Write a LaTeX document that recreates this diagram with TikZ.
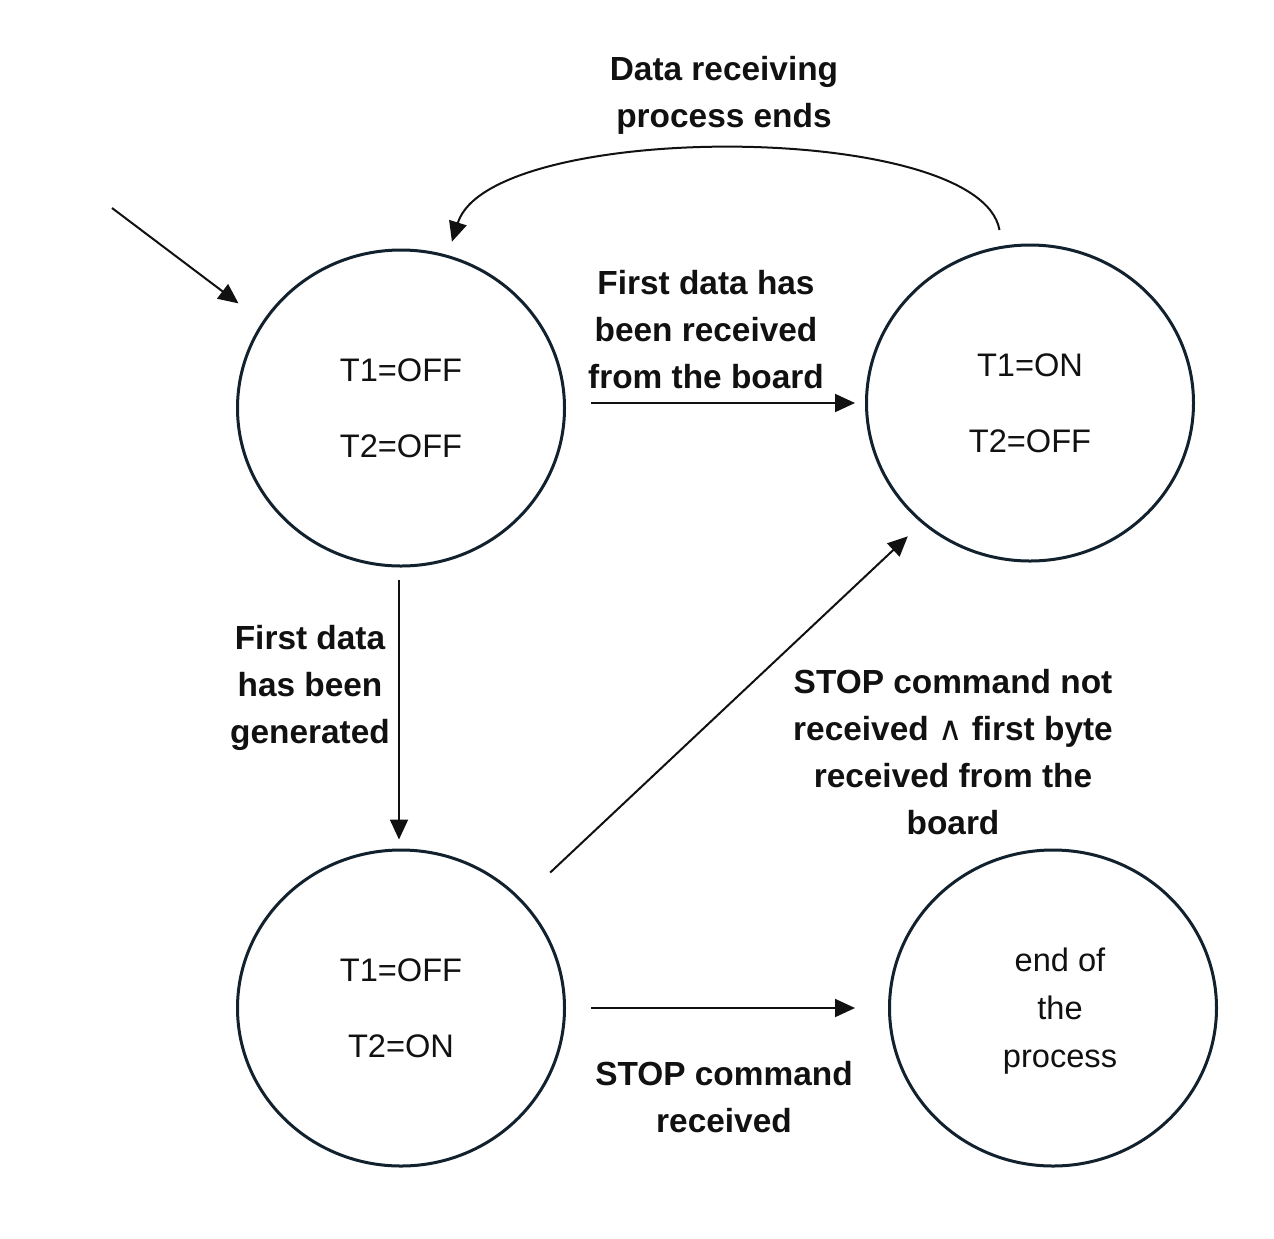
\documentclass[tikz,border=0pt]{standalone}
\usepackage{fontspec}
\setmainfont{Liberation Sans}
\newfontfamily\djv{DejaVu Sans}
\usetikzlibrary{arrows.meta,shapes.geometric}
\definecolor{navy}{HTML}{12212E}
\definecolor{ink}{HTML}{111111}
\begin{document}
\begin{tikzpicture}[x=0.5pt,y=-0.5pt,
  state/.style={ellipse,draw=navy,line width=1.5pt,minimum width=163.5pt,minimum height=158pt,inner sep=0pt},
  vals/.style={font=\fontsize{16.3}{38}\selectfont,align=center,text=ink},
  lbl/.style={font=\bfseries\fontsize{16.7}{23.5}\selectfont,align=center,text=ink},
  conn/.style={draw=ink,line width=1pt,-{Triangle[length=10pt,width=9pt]}}]
\useasboundingbox[fill=white] (0,0) rectangle (1274,1238);

\node[state,vals] (A) at (401,408) {T1=OFF\\T2=OFF};
\node[state,vals] (B) at (1030,403) {T1=ON\\T2=OFF};
\node[state,vals] (C) at (401,1008) {T1=OFF\\T2=ON};
\node[state] (D) at (1053,1008) {};
\node[vals,font=\fontsize{16.3}{24}\selectfont] (Dtext) at (1060,1011) {end of\\the\\process};

\coordinate (init) at (112,208);

\draw[conn,shorten >=15pt] (init) -- (A.148);
\draw[conn,shorten <=12.5pt,shorten >=5pt] (A.east |- B.west) -- (B.west);
\draw[conn,shorten <=6pt,shorten >=4.5pt] ([xshift=-1pt]A.south) -- ([xshift=-1pt]C.north);
\draw[conn,shorten <=19.5pt,shorten >=9.5pt] (C.42.6) -- (B.228.4);
\draw[conn,shorten <=12.5pt,shorten >=16.5pt] (C.east) -- (D.west);
\draw[conn,shorten <=8pt,shorten >=7pt] (B.100.6) .. controls (980,120) and (490,120) .. (A.73);

\node[lbl] (l1) at (724,95) {Data receiving\\process ends};
\node[lbl] (l2) at (706,330) {First data has\\been received\\from the board};
\node[lbl] (l3) at (310,688) {First data\\has been\\generated};
\node[lbl] (l4) at (953,752) {STOP command not\\received {\djv\mdseries ∧} first byte\\received from the\\board};
\node[lbl] (l5) at (724,1097) {STOP command\\received};
\end{tikzpicture}
\end{document}
